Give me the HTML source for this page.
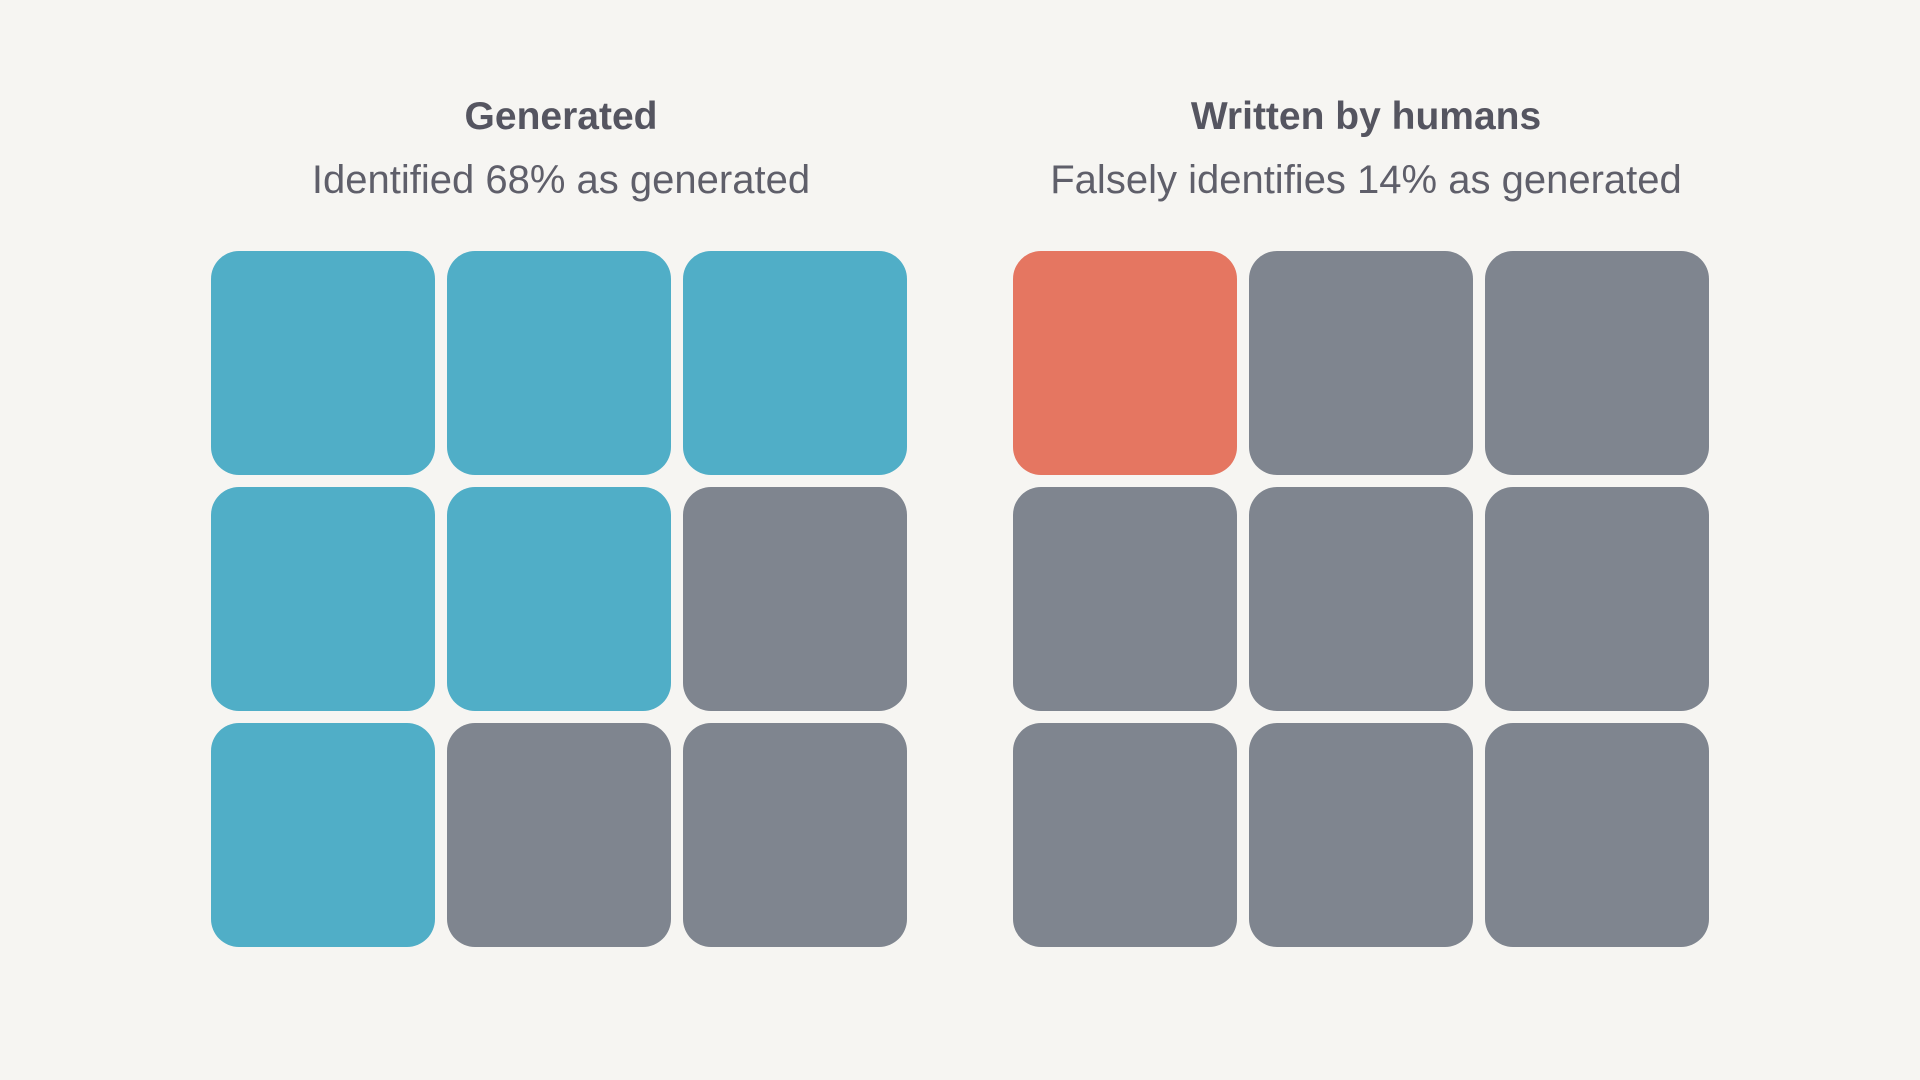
<!DOCTYPE html>
<html><head><meta charset="utf-8"><style>
html,body{margin:0;padding:0;background:#f6f5f2;}
body{width:1920px;height:1080px;position:relative;overflow:hidden;font-family:"Liberation Sans",sans-serif;}
.t{position:absolute;text-align:center;width:800px;color:#555560;font-weight:bold;font-size:39px;}
.s{position:absolute;text-align:center;width:800px;color:#5f5f6a;font-size:40px;}
.cell{position:absolute;border-radius:28px;}
</style></head><body>
<div class="t" style="left:161px;top:95px">Generated</div>
<div class="s" style="left:161px;top:158px">Identified 68% as generated</div>
<div class="t" style="left:966px;top:95px">Written by humans</div>
<div class="s" style="left:966px;top:158px">Falsely identifies 14% as generated</div>
<svg id="chart" width="1920" height="1080" style="position:absolute;left:0;top:0"></svg>
<script>
const panels = ["generated","human"];
const generatedFlags = [1,1,1,1,1,0,1,0,0];
const humanFlags = [1,0,0,0,0,0,0,0,0];
const panelColors = ["#50aec7","#e57661"];
const grayColor = "#7f858f";
const originX = [211, 1013];
const originY = 251;
const cellSize = 224;
const gap = 12;
const svg = document.getElementById('chart');
const allFlags = [generatedFlags, humanFlags];
allFlags.forEach((flags, p) => {
  flags.forEach((f, i) => {
    const r = document.createElementNS('http://www.w3.org/2000/svg','rect');
    const col = i % 3, row = Math.floor(i / 3);
    r.setAttribute('x', originX[p] + col * (cellSize + gap));
    r.setAttribute('y', originY + row * (cellSize + gap));
    r.setAttribute('width', cellSize);
    r.setAttribute('height', cellSize);
    r.setAttribute('rx', 28);
    r.setAttribute('fill', f ? panelColors[p] : grayColor);
    
    
    svg.appendChild(r);
  });
});
</script>
</body></html>
